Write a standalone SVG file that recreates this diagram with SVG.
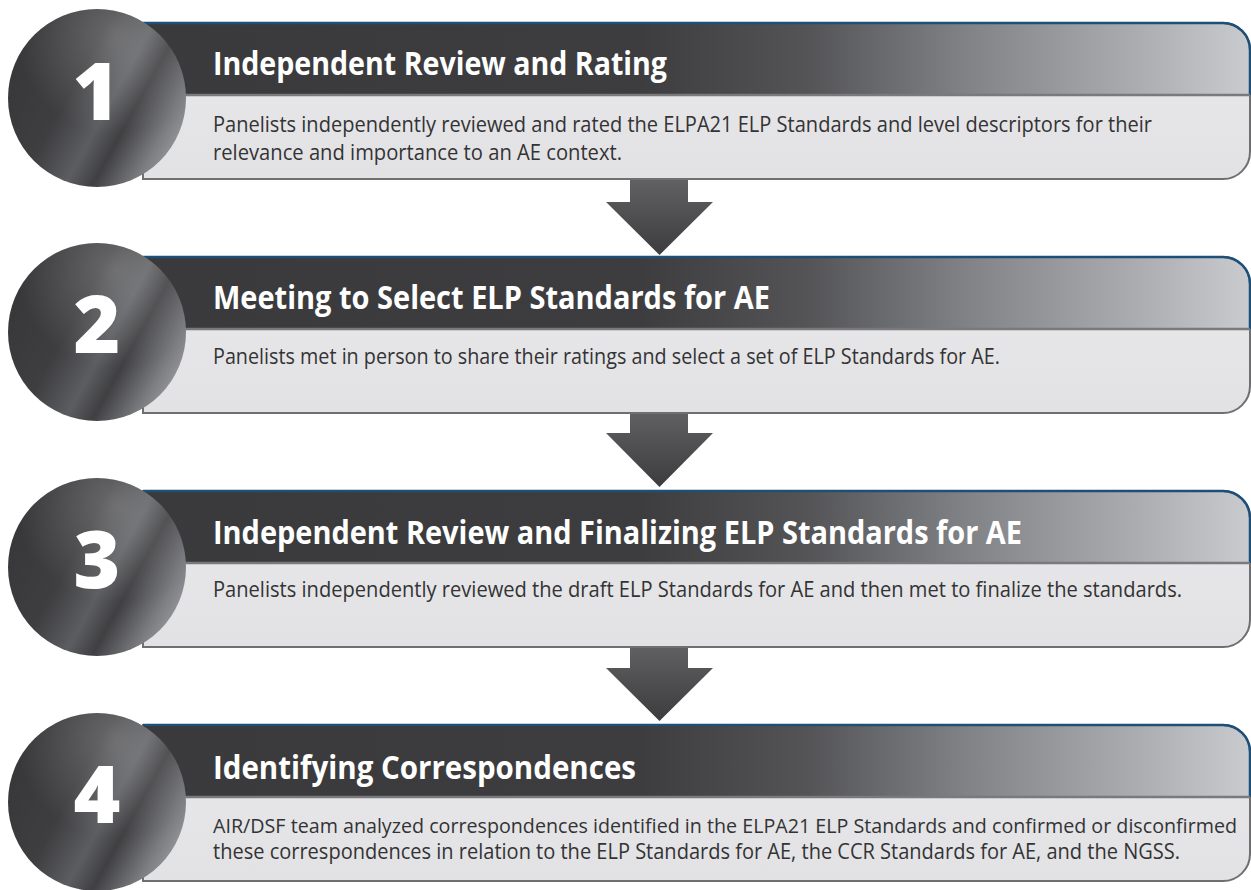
<svg xmlns="http://www.w3.org/2000/svg" width="1251" height="890" viewBox="0 0 1251 890">
<defs>
<style>
.title{font-family:"Open Sans","Noto Sans","Liberation Sans",sans-serif;font-weight:700;font-size:32px;fill:#ffffff}
.body{font-family:"Open Sans","Noto Sans","Liberation Sans",sans-serif;font-weight:400;font-size:21px;fill:#333335}
.num{font-family:"Open Sans","Noto Sans","Liberation Sans",sans-serif;font-weight:800;font-size:80px;fill:#ffffff;text-anchor:middle}
.hdr{fill:url(#hdrGrad)}
.bdy{fill:url(#bodyGrad)}
.outline{fill:none;stroke:#6f6f72;stroke-width:2}
.topline{fill:none;stroke:#1d4f78;stroke-width:2.5}
.divider{stroke:#7a7a7d;stroke-width:2.5}
.disc{fill:url(#discGrad)}
.sheen{fill:url(#discSheen)}
.arrow{fill:url(#arrowGrad)}
</style>
<linearGradient id="hdrGrad" gradientUnits="userSpaceOnUse" x1="143" y1="0" x2="1250" y2="0">
<stop offset="0" stop-color="#3a3a3c"/>
<stop offset="0.45" stop-color="#3d3d3f"/>
<stop offset="0.6" stop-color="#545457"/>
<stop offset="0.75" stop-color="#828487"/>
<stop offset="0.9" stop-color="#abadb0"/>
<stop offset="1" stop-color="#cacbce"/>
</linearGradient>
<linearGradient id="bodyGrad" x1="0" y1="0" x2="0" y2="1">
<stop offset="0" stop-color="#e9e9eb"/>
<stop offset="1" stop-color="#e2e2e4"/>
</linearGradient>
<linearGradient id="discGrad" x1="0" y1="0.15" x2="1" y2="0.7">
<stop offset="0" stop-color="#363638"/>
<stop offset="0.4" stop-color="#3e3e41"/>
<stop offset="0.6" stop-color="#5c5d60"/>
<stop offset="0.72" stop-color="#404043"/>
<stop offset="0.9" stop-color="#7c7d81"/>
<stop offset="1" stop-color="#97989c"/>
</linearGradient>
<radialGradient id="discSheen" cx="0.6" cy="0.15" r="0.55">
<stop offset="0" stop-color="#ffffff" stop-opacity="0.22"/>
<stop offset="1" stop-color="#ffffff" stop-opacity="0"/>
</radialGradient>
<linearGradient id="arrowGrad" x1="0" y1="0" x2="0" y2="1">
<stop offset="0" stop-color="#616164"/>
<stop offset="1" stop-color="#3c3c3f"/>
</linearGradient>
<path id="panelShape" d="M143,0 H1223 A27,27 0 0 1 1250,27 V129 A27,27 0 0 1 1223,156 H143 Z"/>
<clipPath id="panelClip"><use href="#panelShape"/></clipPath>
</defs>

<rect width="1251" height="890" fill="#ffffff"/>

<g id="connectors">
<polygon class="arrow" points="630,180 688,180 688,202 713,202 659.5,255 606,202 630,202"/>
<polygon class="arrow" points="630,411 688,411 688,433 713,433 659.5,487 606,433 630,433"/>
<polygon class="arrow" points="630,645 688,645 688,668 713,668 659.5,721 606,668 630,668"/>
</g>

<g id="step1" transform="translate(0,23)">
<g clip-path="url(#panelClip)">
<rect class="bdy" x="143" y="0" width="1110" height="157"/>
<rect class="hdr" x="143" y="0" width="1110" height="72"/>
</g>
<use href="#panelShape" class="outline"/>
<path class="topline" d="M143,0 H1223 A27,27 0 0 1 1250,27 V72"/>
<line class="divider" x1="143" y1="72" x2="1250" y2="72"/>
<circle class="disc" cx="97" cy="75" r="89"/>
<circle class="sheen" cx="97" cy="75" r="89"/>
<text class="num" x="96" y="97">1</text>
<text class="title" x="213" y="52" textLength="454" lengthAdjust="spacingAndGlyphs">Independent Review and Rating</text>
<text class="body" x="213" y="109" textLength="939" lengthAdjust="spacingAndGlyphs">Panelists independently reviewed and rated the ELPA21 ELP Standards and level descriptors for their</text>
<text class="body" x="213" y="137" textLength="409" lengthAdjust="spacingAndGlyphs">relevance and importance to an AE context.</text>
</g>

<g id="step2" transform="translate(0,257)">
<g clip-path="url(#panelClip)">
<rect class="bdy" x="143" y="0" width="1110" height="157"/>
<rect class="hdr" x="143" y="0" width="1110" height="72"/>
</g>
<use href="#panelShape" class="outline"/>
<path class="topline" d="M143,0 H1223 A27,27 0 0 1 1250,27 V72"/>
<line class="divider" x1="143" y1="72" x2="1250" y2="72"/>
<circle class="disc" cx="97" cy="75" r="89"/>
<circle class="sheen" cx="97" cy="75" r="89"/>
<text class="num" x="97" y="96">2</text>
<text class="title" x="213" y="52" textLength="557" lengthAdjust="spacingAndGlyphs">Meeting to Select ELP Standards for AE</text>
<text class="body" x="213" y="107" textLength="787" lengthAdjust="spacingAndGlyphs">Panelists met in person to share their ratings and select a set of ELP Standards for AE.</text>
</g>

<g id="step3" transform="translate(0,491)">
<g clip-path="url(#panelClip)">
<rect class="bdy" x="143" y="0" width="1110" height="157"/>
<rect class="hdr" x="143" y="0" width="1110" height="72"/>
</g>
<use href="#panelShape" class="outline"/>
<path class="topline" d="M143,0 H1223 A27,27 0 0 1 1250,27 V72"/>
<line class="divider" x1="143" y1="72" x2="1250" y2="72"/>
<circle class="disc" cx="97" cy="76" r="89"/>
<circle class="sheen" cx="97" cy="76" r="89"/>
<text class="num" x="97" y="97">3</text>
<text class="title" x="213" y="53" textLength="809" lengthAdjust="spacingAndGlyphs">Independent Review and Finalizing ELP Standards for AE</text>
<text class="body" x="213" y="106" textLength="969" lengthAdjust="spacingAndGlyphs">Panelists independently reviewed the draft ELP Standards for AE and then met to finalize the standards.</text>
</g>

<g id="step4" transform="translate(0,725)">
<g clip-path="url(#panelClip)">
<rect class="bdy" x="143" y="0" width="1110" height="157"/>
<rect class="hdr" x="143" y="0" width="1110" height="72"/>
</g>
<use href="#panelShape" class="outline"/>
<path class="topline" d="M143,0 H1223 A27,27 0 0 1 1250,27 V72"/>
<line class="divider" x1="143" y1="72" x2="1250" y2="72"/>
<circle class="disc" cx="97" cy="77" r="89"/>
<circle class="sheen" cx="97" cy="77" r="89"/>
<text class="num" x="97" y="98">4</text>
<text class="title" x="213" y="54" textLength="423" lengthAdjust="spacingAndGlyphs">Identifying Correspondences</text>
<text class="body" x="213" y="108" style="font-size:19.6px" textLength="1024" lengthAdjust="spacingAndGlyphs">AIR/DSF team analyzed correspondences identified in the ELPA21 ELP Standards and confirmed or disconfirmed</text>
<text class="body" x="213" y="134" textLength="967" lengthAdjust="spacingAndGlyphs">these correspondences in relation to the ELP Standards for AE, the CCR Standards for AE, and the NGSS.</text>
</g>
</svg>
